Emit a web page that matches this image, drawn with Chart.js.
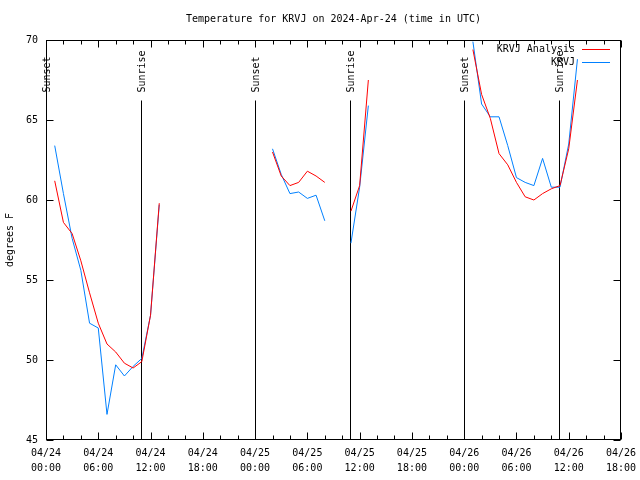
<!DOCTYPE html>
<html>
<head>
<meta charset="utf-8">
<script src="https://cdn.jsdelivr.net/npm/chart.js@4.4.1/dist/chart.umd.min.js"></script>
<style>
  html, body { margin: 0; padding: 0; background: #fff; }
  #wrap { width: 640px; height: 480px; }
</style>
</head>
<body>
<div id="wrap"><canvas id="chart-temp" width="640" height="480"></canvas></div>
<script>
// hours since 04/24 00:00 UTC
const hours = [
  1, 2, 3, 4, 5, 6, 7, 8, 9, 10, 11, 12, 13,
  26, 27, 28, 29, 30, 31, 32,
  35, 36, 37,
  49, 50, 51, 52, 53, 54, 55, 56, 57, 58, 59, 60, 61
]
const analysis = [
  61.2, 58.6, 57.9, 56.2, 54.2, 52.3, 51.0, 50.5, 49.8, 49.5, 49.9, 52.8, 59.8,
  63.0, 61.5, 60.9, 61.1, 61.8, 61.5, 61.1,
  59.3, 60.9, 67.5,
  69.4, 66.6, 65.1, 62.9, 62.2, 61.1, 60.2, 60.0, 60.4, 60.7, 60.9, 63.2, 67.5
]
const observed = [
  63.4, 60.4, 57.6, 55.6, 52.3, 52.0, 46.6, 49.7, 49.0, 49.6, 50.1, 52.8, 59.7,
  63.2, 61.6, 60.4, 60.5, 60.1, 60.3, 58.7,
  57.3, 60.8, 65.9,
  69.9, 66.0, 65.2, 65.2, 63.4, 61.4, 61.1, 60.9, 62.6, 60.8, 60.8, 63.5, 68.8
]
const tickDates = ['04/24', '04/24', '04/24', '04/24', '04/25', '04/25', '04/25', '04/25', '04/26', '04/26', '04/26', '04/26']
const tickTimes = ['00:00', '06:00', '12:00', '18:00', '00:00', '06:00', '12:00', '18:00', '00:00', '06:00', '12:00', '18:00']
const sunHours = [0, 10.95, 24.02, 34.93, 48.02, 58.92]
const sunLabels = ['Sunset', 'Sunrise', 'Sunset', 'Sunrise', 'Sunset', 'Sunrise']

const FONT = '"DejaVu Sans Mono", "Liberation Mono", monospace'
const red = 'rgb(255, 0, 0)'
const blue = 'rgb(0, 128, 255)'

function toPoints(values) {
  const points = []
  hours.forEach((h, i) => {
    if (i > 0 && h - hours[i - 1] > 1) points.push({ x: (h + hours[i - 1]) / 2, y: null })
    points.push({ x: h, y: values[i] })
  })
  return points
}

// gnuplot-like frame, inward ticks, sun lines, legend and title
const gnuplotLook = {
  id: 'gnuplotLook',
  beforeDatasetsDraw(chart) {
    const { ctx, chartArea: a, scales: { x, y } } = chart
    ctx.save()
    ctx.strokeStyle = '#000'
    ctx.lineWidth = 1
    const top = Math.round(y.getPixelForValue(66.25)) + 0.5
    sunHours.forEach((h, i) => {
      const px = Math.round(x.getPixelForValue(h)) + 0.5
      ctx.beginPath()
      ctx.moveTo(px, top)
      ctx.lineTo(px, a.bottom)
      ctx.stroke()
      ctx.save()
      ctx.translate(px + 1, top - 8)
      ctx.rotate(-Math.PI / 2)
      ctx.font = '10px ' + FONT
      ctx.fillStyle = '#000'
      ctx.textAlign = 'left'
      ctx.textBaseline = 'middle'
      ctx.fillText(sunLabels[i], 0, 0)
      ctx.restore()
    })
    ctx.restore()
  },
  afterDraw(chart) {
    const { ctx, chartArea: a, scales: { x, y } } = chart
    ctx.save()
    ctx.strokeStyle = '#000'
    ctx.lineWidth = 1
    const L = Math.round(a.left) + 0.5, R = Math.round(a.right) - 0.5
    const T = Math.round(a.top) + 0.5, B = Math.round(a.bottom) - 0.5
    ctx.strokeRect(L, T, R - L, B - T)

    ctx.beginPath()
    for (let h = 0; h <= 66; h += 2) {
      const px = Math.round(x.getPixelForValue(h)) + 0.5
      const len = h % 6 === 0 ? 7 : 4
      ctx.moveTo(px, B); ctx.lineTo(px, B - len)
      ctx.moveTo(px, T); ctx.lineTo(px, T + len)
    }
    for (let v = 45; v <= 70; v += 5) {
      const py = Math.round(y.getPixelForValue(v)) + 0.5
      ctx.moveTo(L, py); ctx.lineTo(L + 7, py)
      ctx.moveTo(R, py); ctx.lineTo(R - 7, py)
    }
    ctx.stroke()

    // legend
    ctx.font = '10px ' + FONT
    ctx.fillStyle = '#000'
    ctx.textAlign = 'right'
    ctx.textBaseline = 'middle'
    chart.data.datasets.forEach((ds, i) => {
      const ly = 49 + i * 13
      ctx.fillText(ds.label, 575, ly)
      ctx.strokeStyle = ds.borderColor
      ctx.beginPath()
      ctx.moveTo(582, ly + 0.5)
      ctx.lineTo(610, ly + 0.5)
      ctx.stroke()
    })

    // title
    ctx.textAlign = 'center'
    ctx.fillText('Temperature for KRVJ on 2024-Apr-24 (time in UTC)', (a.left + a.right) / 2, 19)
    ctx.restore()
  }
}

const config = {
  type: 'line',
  data: {
    datasets: [
      {
        label: 'KRVJ Analysis',
        data: toPoints(analysis),
        borderColor: red,
        borderWidth: 1,
        pointRadius: 0,
        tension: 0,
        fill: false,
        spanGaps: false
      },
      {
        label: 'KRVJ',
        data: toPoints(observed),
        borderColor: blue,
        borderWidth: 1,
        pointRadius: 0,
        tension: 0,
        fill: false,
        spanGaps: false
      }
    ]
  },
  options: {
    responsive: false,
    animation: false,
    devicePixelRatio: 1,
    layout: { padding: { top: 40, right: 19, left: 0, bottom: 0 } },
    plugins: {
      legend: { display: false },
      title: { display: false },
      tooltip: { enabled: false }
    },
    scales: {
      x: {
        type: 'linear',
        min: 0,
        max: 66,
        grid: { display: false },
        border: { display: false },
        ticks: {
          stepSize: 6,
          autoSkip: false,
          maxRotation: 0,
          padding: -2,
          color: '#000',
          font: { family: FONT, size: 10, lineHeight: 1.5 },
          callback: (v, i) => [tickDates[i], tickTimes[i]]
        },
        afterFit: s => { s.height = 40 }
      },
      y: {
        min: 45,
        max: 70,
        grid: { display: false },
        border: { display: false },
        ticks: {
          stepSize: 5,
          padding: 0,
          color: '#000',
          font: { family: FONT, size: 10 }
        },
        title: {
          display: true,
          text: 'degrees F',
          color: '#000',
          font: { family: FONT, size: 10 }
        },
        afterFit: s => { s.width = 46 }
      }
    }
  },
  plugins: [gnuplotLook]
}

new Chart(document.getElementById('chart-temp').getContext('2d'), config)
</script>
</body>
</html>
